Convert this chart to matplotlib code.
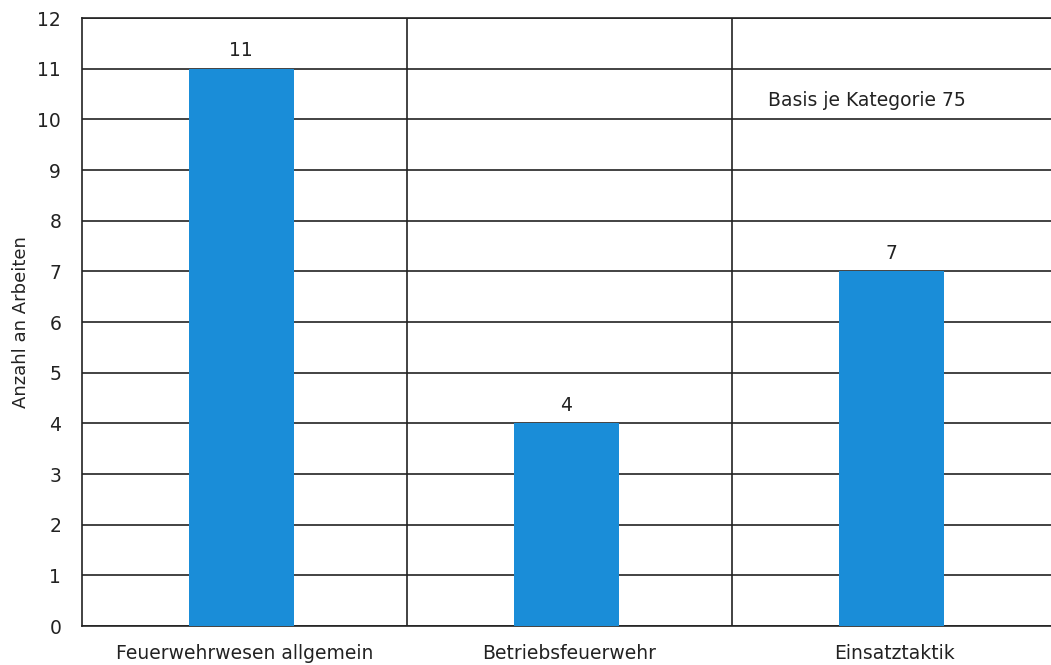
import matplotlib
matplotlib.use("Agg")
import matplotlib.pyplot as plt
import numpy as np

categories = ["Feuerwehrwesen allgemein", "Betriebsfeuerwehr", "Einsatztaktik"]
values = [11, 4, 7]
y_ticks = list(range(0, 13))
y_label = "Anzahl an Arbeiten"
note = "Basis je Kategorie 75"

plt.rcParams['font.family'] = ['DejaVu Sans']
fig = plt.figure(figsize=(10.51, 6.65), dpi=100)
W, H = 1051, 665
ax = fig.add_axes([82 / W, 39 / H, 975 / W, 608 / H])

FS = 13.5
TXT = "#222222"
x = np.arange(len(categories))
bar_color = "#1a8dd8"
line_color = "#222222"
ax.bar(x - 0.01, values, width=0.323, color=bar_color, zorder=3)

for xi, v in zip(x, values):
    ax.text(xi - 0.01, v + 0.17, str(v), ha="center", va="bottom", fontsize=FS, color=TXT)

ax.set_xlim(-0.5, len(categories) - 0.5)
ax.set_ylim(0, 12)
ax.set_yticks(y_ticks)
ax.set_xticks(x)
ax.set_xticklabels(categories, fontsize=FS, color=TXT)
ax.set_xticks(np.arange(len(categories) - 1) + 0.5, minor=True)
ax.tick_params(axis="both", which="both", length=0, labelsize=FS, colors=TXT)
ax.tick_params(axis="x", pad=13)
ax.tick_params(axis="y", pad=15)
ax.grid(axis="y", which="major", color=line_color, linewidth=1.2, zorder=1)
ax.grid(axis="x", which="minor", color=line_color, linewidth=1.2, zorder=1)
for s in ax.spines.values():
    s.set_color(line_color)
    s.set_linewidth(1.2)

ax.set_ylabel(y_label, fontsize=13, color=TXT)
ax.yaxis.set_label_coords((30 - 82) / 975, 0.5)
ax.text(1.61, 10.38, note, ha="left", va="center", fontsize=FS, color=TXT)

fig.savefig("out.png", dpi=100)
